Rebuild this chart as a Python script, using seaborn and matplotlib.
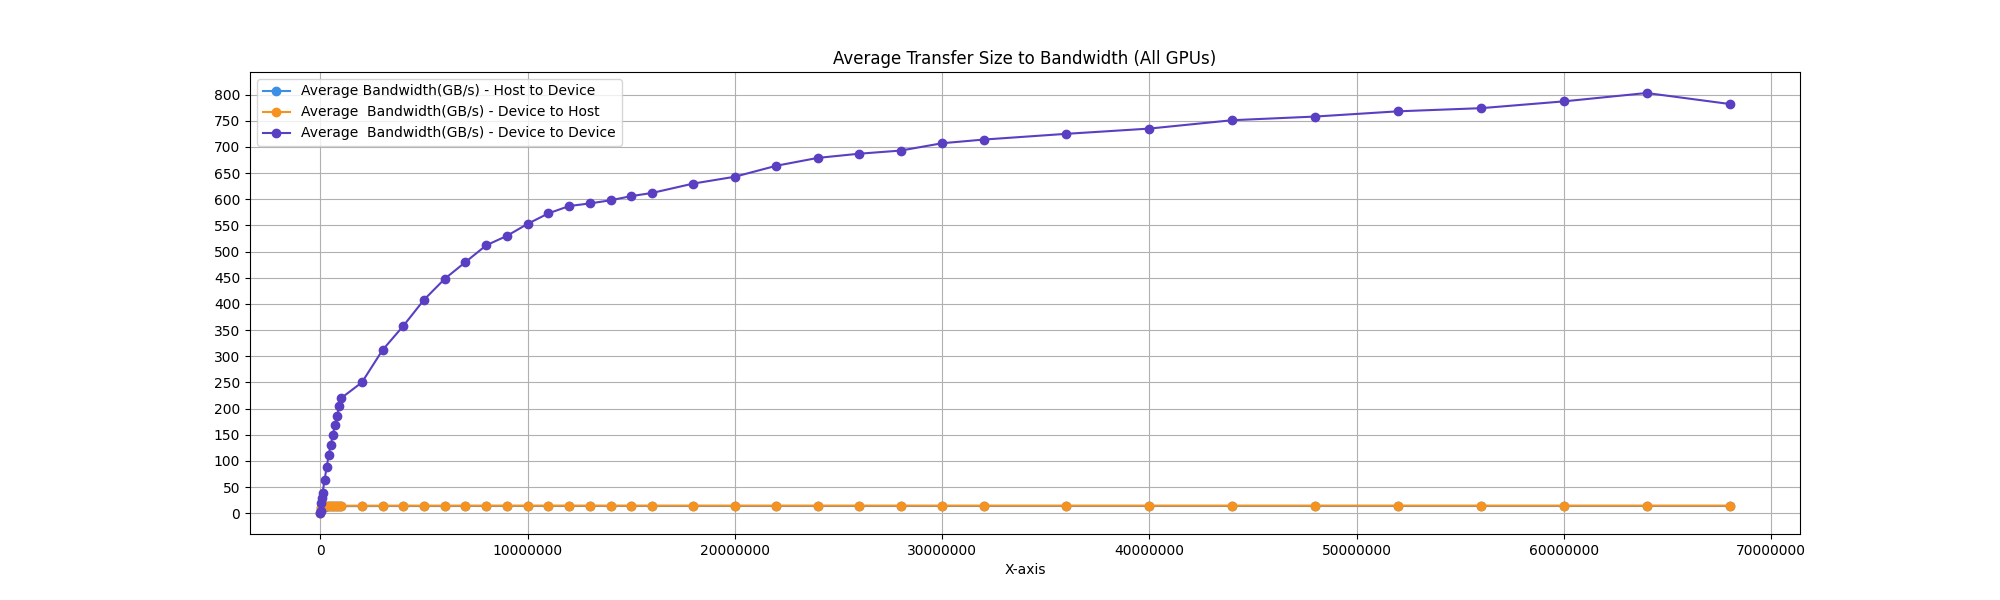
import pandas as pd
import seaborn as sns
import matplotlib.pyplot as plt
from matplotlib.ticker import MultipleLocator

# transfer sizes (bytes)
sizes = [1000, 10000, 50000, 80000,
         100000, 200000, 300000, 400000, 500000, 600000, 700000, 800000, 900000, 1000000,
         2000000, 3000000, 4000000, 5000000, 6000000, 7000000, 8000000, 9000000, 10000000,
         11000000, 12000000, 13000000, 14000000, 15000000, 16000000,
         18000000, 20000000, 22000000, 24000000, 26000000, 28000000, 30000000, 32000000,
         36000000, 40000000, 44000000, 48000000, 52000000, 56000000, 60000000, 64000000, 68000000]

h2d = [0.8, 5.5, 10.5, 11.8,
       12.3, 12.8, 13.0, 13.2, 13.3, 13.4, 13.5, 13.5, 13.6, 13.6,
       13.7, 13.8, 13.8, 13.8, 13.8, 13.9, 13.9, 13.9, 13.9,
       13.9, 13.9, 13.9, 13.9, 13.9, 13.9,
       13.9, 13.9, 13.9, 13.9, 13.9, 13.9, 13.9, 13.9,
       13.9, 13.9, 13.9, 13.9, 13.9, 13.9, 13.9, 13.9, 13.9]

d2h = [1.0, 6.5, 11.8, 13.0,
       13.5, 13.9, 14.1, 14.2, 14.3, 14.4, 14.4, 14.5, 14.5, 14.5,
       14.5, 14.5, 14.6, 14.6, 14.6, 14.6, 14.6, 14.6, 14.6,
       14.6, 14.6, 14.6, 14.6, 14.6, 14.6,
       14.6, 14.6, 14.6, 14.6, 14.6, 14.6, 14.6, 14.6,
       14.6, 14.6, 14.6, 14.6, 14.6, 14.6, 14.6, 14.6, 14.6]

d2d = [0.5, 5, 19, 29,
       38, 64, 88, 112, 131, 150, 169, 185, 204, 220,
       250, 312, 358, 408, 448, 480, 512, 530, 553,
       573, 587, 592, 598, 606, 612,
       630, 643, 664, 679, 687, 693, 707, 714,
       725, 735, 751, 758, 768, 774, 787, 803, 782]

df = pd.DataFrame({'size': sizes, 'h2d': h2d, 'd2h': d2h, 'd2d': d2d})

series = [
    ('h2d', 'Average Bandwidth(GB/s) - Host to Device', '#3b8fe4'),
    ('d2h', 'Average  Bandwidth(GB/s) - Device to Host', '#f6921e'),
    ('d2d', 'Average  Bandwidth(GB/s) - Device to Device', '#5a3fc2'),
]

fig, ax = plt.subplots(figsize=(20, 6), dpi=100)
for col, label, color in series:
    sns.lineplot(x='size', y=col, data=df, ax=ax, label=label, color=color,
                 marker='o', markersize=6, markeredgecolor=color, markeredgewidth=1,
                 linewidth=1.5)

ax.set_title('Average Transfer Size to Bandwidth (All GPUs)')
ax.set_xlabel('X-axis')
ax.set_ylabel('')
ax.ticklabel_format(style='plain', axis='x')
ax.yaxis.set_major_locator(MultipleLocator(50))
ax.grid(True)
ax.legend(loc='upper left')

plt.savefig('out.png', dpi=100)
